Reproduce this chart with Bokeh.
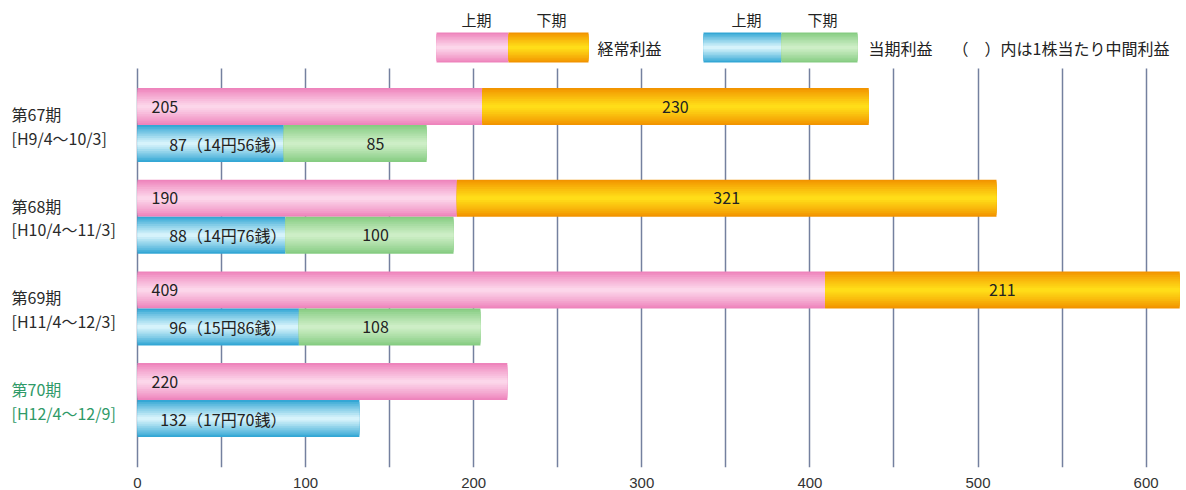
from bokeh.plotting import figure
from bokeh.models import Range1d, SingleIntervalTicker, ColumnDataSource
from bokeh.core.properties import value
from bokeh.embed import file_html
from bokeh.resources import INLINE

# ---------------- data ----------------
periods = ["第67期", "第68期", "第69期", "第70期"]
period_ranges = ["[H9/4〜10/3]", "[H10/4〜11/3]", "[H11/4〜12/3]", "[H12/4〜12/9]"]
ordinary_h1 = [205, 190, 409, 220]          # 経常利益 上期
ordinary_h2 = [230, 321, 211, None]         # 経常利益 下期
net_h1 = [87, 88, 96, 132]                  # 当期利益 上期
net_h2 = [85, 100, 108, None]               # 当期利益 下期
eps_h1 = ["14円56銭", "14円76銭", "15円86銭", "17円70銭"]  # 1株当たり中間利益
half_labels = ["上期", "下期"]
series_names = ["経常利益", "当期利益"]
note_text = "（　）内は1株当たり中間利益"
x_ticks_step = 100
x_grid_step = 50

# ---------------- style / layout ----------------
JP = "Noto Sans CJK JP"
TXT = "#222222"
PINK = ("#ee84bc", "#fcd6ea")
ORANGE = ("#f29400", "#ffdd18")
BLUE = ("#34a7d5", "#d6f3fb")
GREEN = ("#86cc82", "#cdeec6")
LABEL_COLORS = ["#2a2a2a", "#2a2a2a", "#2a2a2a", "#2f9a68"]

W, H = 1186, 490
BOTTOM = 23
FRAME_H = H - BOTTOM
X0 = 137            # pixel where value 0 sits
S = 1.681           # pixels per unit
TOP = 68            # pixel where the chart body starts
PITCH = 91.7        # pixels per period group


def sx(px):
    return (px - X0) / S


def sy(py):
    return (py - TOP) / PITCH


PINK_OFF = 38 / PITCH
BLUE_OFF = 75 / PITCH
BAR_H = 37 / PITCH


def hexrgb(h):
    h = h.lstrip("#")
    return tuple(int(h[i:i + 2], 16) for i in (0, 2, 4))


def lerp(c1, c2, t):
    a, b = hexrgb(c1), hexrgb(c2)
    return "#%02x%02x%02x" % tuple(int(round(a[i] + (b[i] - a[i]) * t)) for i in range(3))


def gradient_hbar(fig, source, height, colors, n=10):
    edge, center = colors
    for k in range(n):
        frac = 1 - k / n
        t = (k / (n - 1)) ** 0.9
        fig.hbar(y="y", left="left", right="right", height=height * frac,
                 fill_color=lerp(edge, center, t), line_color=None, source=source)


p = figure(width=W, height=H, x_range=Range1d(sx(0), sx(W)),
           y_range=Range1d(sy(FRAME_H), sy(0)),
           output_backend="svg", toolbar_location=None, y_axis_location=None,
           min_border_left=0, min_border_right=0, min_border_top=0, min_border_bottom=BOTTOM)
p.outline_line_color = None
p.background_fill_color = "white"
p.border_fill_color = "white"
for g in p.ygrid:
    g.grid_line_color = None
p.xgrid.ticker = SingleIntervalTicker(interval=x_grid_step)
p.xgrid.bounds = (0, sx(W))
p.xgrid.cross_bounds = (0, sy(FRAME_H))
p.xgrid.grid_line_color = "#74809f"
p.xgrid.grid_line_width = 1.5
p.xaxis.ticker = SingleIntervalTicker(interval=x_ticks_step)
p.xaxis.bounds = (0, sx(W))
p.xaxis.axis_line_color = None
p.xaxis.major_tick_line_color = None
p.xaxis.minor_tick_line_color = None
p.xaxis.major_label_standoff = 4
p.xaxis.major_label_text_font = "Liberation Sans"
p.xaxis.major_label_text_font_size = "15px"
p.xaxis.major_label_text_color = "#333333"

idx = list(range(len(periods)))
pink_y = [i + PINK_OFF for i in idx]
blue_y = [i + BLUE_OFF for i in idx]

src_p1 = ColumnDataSource(dict(y=pink_y, left=[0] * 4, right=ordinary_h1,
                               label=[str(v) for v in ordinary_h1]))
o2 = [i for i in idx if ordinary_h2[i] is not None]
src_p2 = ColumnDataSource(dict(y=[pink_y[i] for i in o2],
                               left=[ordinary_h1[i] for i in o2],
                               right=[ordinary_h1[i] + ordinary_h2[i] for i in o2],
                               xc=[ordinary_h1[i] + ordinary_h2[i] / 2 for i in o2],
                               label=[str(ordinary_h2[i]) for i in o2]))
src_n1 = ColumnDataSource(dict(y=blue_y, left=[0] * 4, right=net_h1,
                               label=["%d（%s）" % (net_h1[i], eps_h1[i]) for i in idx]))
n2 = [i for i in idx if net_h2[i] is not None]
src_n2 = ColumnDataSource(dict(y=[blue_y[i] for i in n2],
                               left=[net_h1[i] for i in n2],
                               right=[net_h1[i] + net_h2[i] for i in n2],
                               label=[str(net_h2[i]) for i in n2]))

gradient_hbar(p, src_p1, BAR_H, PINK)
gradient_hbar(p, src_p2, BAR_H, ORANGE)
gradient_hbar(p, src_n1, BAR_H, BLUE)
gradient_hbar(p, src_n2, BAR_H, GREEN)

common = dict(text_font=value(JP), text_font_size="16px", text_color=TXT,
              text_baseline="middle")
p.text(x=sx(151), y="y", text="label", source=src_p1, text_align="left", **common)
p.text(x="xc", y="y", text="label", source=src_p2, text_align="center", **common)
p.text(x=sx(286), y="y", text="label", source=src_n1, text_align="right", **common)
p.text(x=sx(375), y="y", text="label", source=src_n2, text_align="center", **common)

# period labels on the left
lab_src = ColumnDataSource(dict(
    y1=[i + 45.5 / PITCH for i in idx],
    y2=[i + 69 / PITCH for i in idx],
    t1=periods, t2=period_ranges, c=LABEL_COLORS))
for ycol, tcol in (("y1", "t1"), ("y2", "t2")):
    p.text(x=sx(11), y=ycol, text=tcol, source=lab_src, text_color="c",
           text_font=value(JP), text_font_size="16px",
           text_align="left", text_baseline="middle")

# ---------------- legend ----------------
leg_sets = [
    ((436, 508, 588), (PINK, ORANGE), series_names[0], 597),
    ((703, 781, 857), (BLUE, GREEN), series_names[1], 868),
]
for (x0, x1, x2), (c1, c2), name, tx in leg_sets:
    s1 = ColumnDataSource(dict(y=[sy(47)], left=[sx(x0)], right=[sx(x1)]))
    s2 = ColumnDataSource(dict(y=[sy(47)], left=[sx(x1)], right=[sx(x2)]))
    gradient_hbar(p, s1, 30 / PITCH, c1)
    gradient_hbar(p, s2, 30 / PITCH, c2)
    p.text(x=[sx((x0 + x1) / 2 + 4), sx((x1 + x2) / 2 + 3)], y=[sy(19), sy(19)],
           text=half_labels, text_font=value(JP), text_font_size="15px", text_color=TXT,
           text_align="center", text_baseline="middle")
    p.text(x=[sx(tx)], y=[sy(47)], text=[name], text_font=value(JP), text_font_size="16px",
           text_color=TXT, text_align="left", text_baseline="middle")
p.text(x=[sx(952)], y=[sy(47)], text=[note_text], text_font=value(JP), text_font_size="16px",
       text_color=TXT, text_align="left", text_baseline="middle")

open("out.html", "w").write(file_html(p, INLINE))
